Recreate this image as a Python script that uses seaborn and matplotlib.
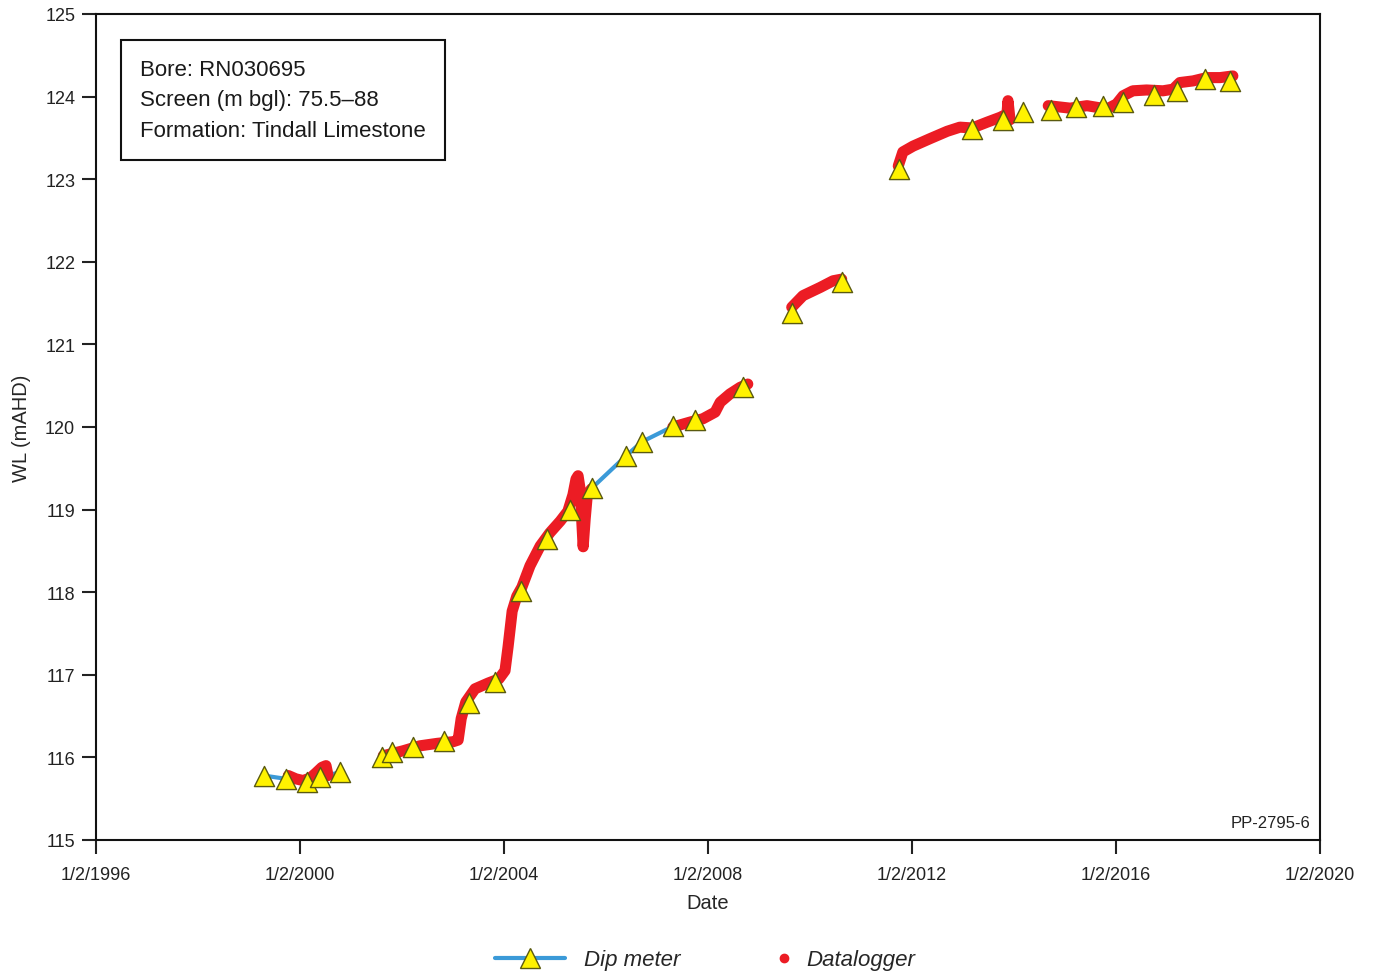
import pandas as pd
import numpy as np
import matplotlib
matplotlib.use('Agg')
import matplotlib.pyplot as plt
from matplotlib.lines import Line2D
import seaborn as sns

# Dip meter readings (decimal year, water level mAHD) and line-segment ids
dip_year = [1999.29, 1999.73, 2000.14, 2000.39, 2000.78,
            2001.60, 2001.81, 2002.22, 2002.82, 2003.32, 2003.82, 2004.33, 2004.84,
            2005.29, 2005.72, 2006.39, 2006.70, 2007.32, 2007.75, 2008.68,
            2009.64, 2010.62,
            2011.75, 2013.17, 2013.79,
            2014.18,
            2014.73, 2015.22, 2015.74, 2016.14, 2016.75, 2017.20, 2017.75, 2018.24]
dip_wl = [115.78, 115.74, 115.70, 115.76, 115.82,
          116.00, 116.07, 116.12, 116.20, 116.66, 116.91, 118.01, 118.65,
          118.99, 119.26, 119.65, 119.82, 120.01, 120.09, 120.48,
          121.38, 121.75,
          123.12, 123.61, 123.72,
          123.81,
          123.84, 123.88, 123.89, 123.94, 124.02, 124.07, 124.21, 124.19]
# only the stretches where the blue line shows are joined
dip_seg = [1, 1, 1, 1, 1,
           2, 3, 4, 5, 6, 7, 8, 9, 10,
           11, 11, 11, 11,
           12, 13, 14, 15, 16, 17, 18, 19,
           20, 21, 22, 23, 24, 25, 26, 27]

# Datalogger trace
logger_year = [1999.77, 1999.92, 2000.06, 2000.20, 2000.31, 2000.43, 2000.51, 2000.55,
               2001.63, 2002.02, 2002.35, 2002.69, 2003.00, 2003.10, 2003.16, 2003.25,
               2003.43, 2003.69, 2003.90, 2004.02, 2004.08, 2004.16, 2004.25, 2004.35,
               2004.51, 2004.71, 2004.90, 2005.10, 2005.25, 2005.35, 2005.41, 2005.45,
               2005.49, 2005.55, 2005.59, 2005.63, 2005.71,
               2007.31, 2007.65, 2007.90, 2008.14, 2008.24, 2008.43, 2008.63, 2008.78,
               2009.64, 2009.86, 2010.20, 2010.45, 2010.62,
               2011.73, 2011.82, 2012.02, 2012.35, 2012.69, 2012.94, 2013.18, 2013.47,
               2013.73, 2013.86, 2013.88, 2013.92,
               2014.67, 2015.10, 2015.43, 2015.82, 2016.01, 2016.14, 2016.33, 2016.60,
               2016.92, 2017.12, 2017.25, 2017.51, 2017.78, 2018.04, 2018.29]
logger_wl = [115.78, 115.74, 115.72, 115.75, 115.81, 115.88, 115.90, 115.78,
             116.02, 116.08, 116.14, 116.17, 116.19, 116.21, 116.47, 116.67,
             116.83, 116.90, 116.95, 117.05, 117.34, 117.77, 117.95, 118.06,
             118.32, 118.56, 118.72, 118.86, 118.98, 119.18, 119.37, 119.41,
             119.25, 118.55, 118.89, 119.17, 119.25,
             120.00, 120.06, 120.10, 120.18, 120.30, 120.40, 120.48, 120.52,
             121.45, 121.59, 121.69, 121.77, 121.79,
             123.16, 123.33, 123.40, 123.49, 123.58, 123.63, 123.62, 123.69,
             123.75, 123.79, 123.95, 123.72,
             123.89, 123.86, 123.89, 123.85, 123.91, 124.01, 124.07, 124.08,
             124.07, 124.09, 124.17, 124.19, 124.23, 124.23, 124.25]
logger_seg = [1] * 8 + [2] * 29 + [3] * 8 + [4] * 5 + [5] * 12 + [6] * 15

tick_years = [1996, 2000, 2004, 2008, 2012, 2016, 2020]
tick_labels = ['1/2/1996', '1/2/2000', '1/2/2004', '1/2/2008',
               '1/2/2012', '1/2/2016', '1/2/2020']
y_ticks = [115, 116, 117, 118, 119, 120, 121, 122, 123, 124, 125]


def to_date(y):
    return pd.Timestamp(int(y), 1, 2) + pd.to_timedelta((y - int(y)) * 365.25, unit='D')


dip = pd.DataFrame({'date': [to_date(v) for v in dip_year], 'wl': dip_wl, 'seg': dip_seg})
logger = pd.DataFrame({'date': [to_date(v) for v in logger_year], 'wl': logger_wl, 'seg': logger_seg})

sns.set_style('ticks')
plt.rcParams['font.family'] = ['Liberation Sans', 'DejaVu Sans']

blue = '#3b9ad8'
red = '#ec1c24'
yellow = '#fff200'

fig = plt.figure(figsize=(13.74, 9.78), dpi=100)
ax = fig.add_axes([96 / 1374, 137 / 978, 1224 / 1374, 826 / 978])

sns.lineplot(data=dip, x='date', y='wl', units='seg', estimator=None, sort=False,
             color=blue, linewidth=3, ax=ax, legend=False, zorder=2)
sns.lineplot(data=logger, x='date', y='wl', units='seg', estimator=None, sort=False,
             color=red, linewidth=8, ax=ax, legend=False, zorder=3,
             solid_capstyle='round', solid_joinstyle='round')
sns.scatterplot(data=dip, x='date', y='wl', marker='^', s=210, color=yellow,
                edgecolor='#5a5a10', linewidth=1.0, ax=ax, legend=False, zorder=4)

ax.set_xlim(pd.Timestamp(1996, 1, 2), pd.Timestamp(2020, 1, 2))
ax.set_ylim(115, 125)
ax.set_xticks([pd.Timestamp(y, 1, 2) for y in tick_years])
ax.set_xticklabels(tick_labels)
ax.set_yticks(y_ticks)
ax.tick_params(axis='both', direction='out', length=10, width=1.5, labelsize=13,
               colors='#222222')
ax.tick_params(axis='x', pad=9)
ax.tick_params(axis='y', pad=5)
for s in ax.spines.values():
    s.set_visible(True)
    s.set_linewidth(1.5)
    s.set_color('#111111')

ax.set_xlabel('Date', fontsize=14.5, labelpad=7)
ax.set_ylabel('WL (mAHD)', fontsize=14.5, labelpad=10)

ax.text(0.036, 0.946, 'Bore: RN030695\nScreen (m bgl): 75.5\u201388\nFormation: Tindall Limestone',
        transform=ax.transAxes, ha='left', va='top', fontsize=16, linespacing=1.6,
        color='#1a1a1a',
        bbox=dict(boxstyle='square,pad=0.85', facecolor='white', edgecolor='#111111',
                  linewidth=1.5))
ax.text(0.992, 0.012, 'PP-2795-6', transform=ax.transAxes, ha='right', va='bottom',
        fontsize=12, color='#222222')

h1 = Line2D([], [], color=blue, linewidth=3, marker='^', markersize=14,
            markerfacecolor=yellow, markeredgecolor='#5a5a10')
h2 = Line2D([], [], color=red, linestyle='none', marker='o', markersize=6)
prop = {'style': 'italic', 'size': 16}
fig.legend([h1], ['Dip meter'], loc='center left',
           bbox_to_anchor=(495 / 1374, 1 - 961 / 978), frameon=False,
           borderpad=0, borderaxespad=0, handlelength=3.15, handletextpad=0.85,
           prop=prop, numpoints=1)
fig.legend([h2], ['Datalogger'], loc='center left',
           bbox_to_anchor=(773 / 1374, 1 - 961 / 978), frameon=False,
           borderpad=0, borderaxespad=0, handlelength=1.0, handletextpad=0.5,
           prop=prop, numpoints=1)

fig.savefig('out.png', dpi=100)
